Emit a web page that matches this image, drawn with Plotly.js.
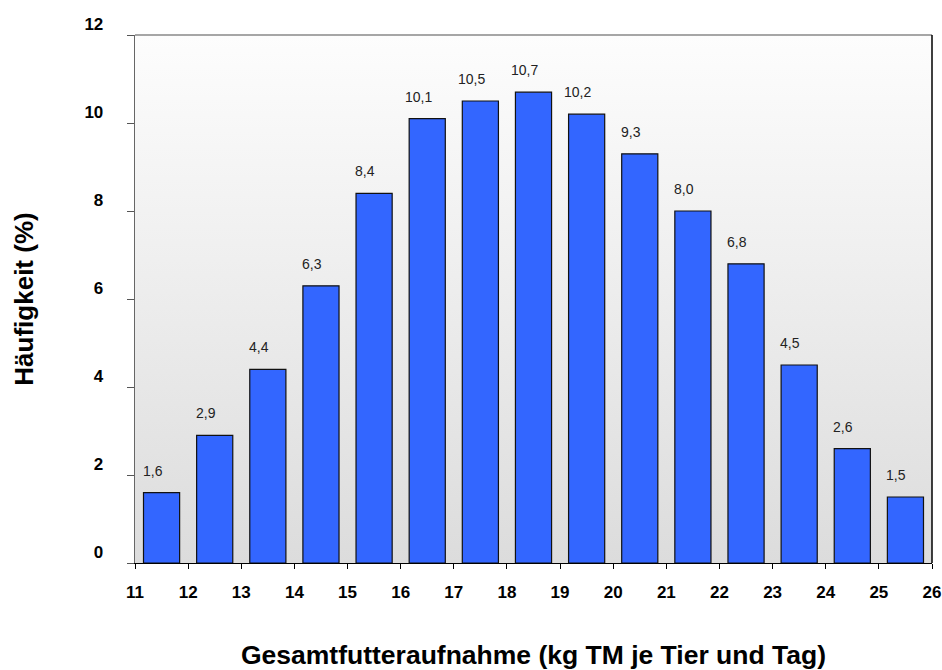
<!DOCTYPE html>
<html>
<head>
<meta charset="utf-8">
<script src="https://cdn.plot.ly/plotly-3.0.1.min.js"></script>
<style>html,body{margin:0;padding:0;background:#fff;}#chart{width:942px;height:670px;}</style>
</head>
<body>
<div id="chart"></div>
<script>
// Data
const binStart = [11, 12, 13, 14, 15, 16, 17, 18, 19, 20, 21, 22, 23, 24, 25];
const frequency = [1.6, 2.9, 4.4, 6.3, 8.4, 10.1, 10.5, 10.7, 10.2, 9.3, 8.0, 6.8, 4.5, 2.6, 1.5];
const valueLabels = ["1,6", "2,9", "4,4", "6,3", "8,4", "10,1", "10,5", "10,7", "10,2", "9,3", "8,0", "6,8", "4,5", "2,6", "1,5"];
const xTicks = [11, 12, 13, 14, 15, 16, 17, 18, 19, 20, 21, 22, 23, 24, 25, 26];
const yTicks = [0, 2, 4, 6, 8, 10, 12];

const FONT = "Liberation Sans, Arial, Helvetica, sans-serif";
const barWidth = 0.68;
const barOffset = (1 - barWidth) / 2;

const gradSvg = '<svg xmlns="http://www.w3.org/2000/svg" width="100" height="100" preserveAspectRatio="none">' +
  '<defs><linearGradient id="g" x1="0" y1="0" x2="0" y2="1">' +
  '<stop offset="0" stop-color="#fdfdfd"/><stop offset="1" stop-color="#dcdcdc"/></linearGradient></defs>' +
  '<rect width="100" height="100" fill="url(#g)"/></svg>';

const trace = {
  type: 'bar',
  x: binStart,
  y: frequency,
  width: barWidth,
  offset: barOffset,
  marker: { color: '#3366ff', line: { color: '#111111', width: 1.2 } },
  hoverinfo: 'x+y'
};

const annotations = binStart.map((b, i) => ({
  x: b + 0.5, y: frequency[i], xref: 'x', yref: 'y',
  text: valueLabels[i], showarrow: false,
  xshift: -9, yshift: 22, yanchor: 'middle',
  font: { family: FONT, size: 14, color: '#222222' }
}));

const layout = {
  width: 942, height: 670,
  margin: { l: 135, r: 10, t: 35, b: 107 },
  paper_bgcolor: '#ffffff',
  plot_bgcolor: '#ffffff',
  showlegend: false,
  bargap: 0,
  font: { family: FONT, color: '#000' },
  images: [{
    source: 'data:image/svg+xml;charset=utf-8,' + encodeURIComponent(gradSvg),
    xref: 'paper', yref: 'paper', x: 0, y: 1, sizex: 1, sizey: 1,
    xanchor: 'left', yanchor: 'top', sizing: 'stretch', layer: 'below'
  }],
  xaxis: {
    range: [11, 26],
    tickmode: 'array', tickvals: xTicks, ticktext: xTicks.map(String),
    ticks: 'outside', ticklen: 5, tickcolor: '#000', tickwidth: 1,
    showline: true, linecolor: '#000', linewidth: 1.3,
    showgrid: false, zeroline: false,
    tickfont: { family: FONT, size: 17, weight: 'bold', color: '#000' },
    ticklabelstandoff: 8, ticklabelshift: 0, ticklabeloverflow: 'allow',
    title: { text: 'Gesamtfutteraufnahme (kg TM je Tier und Tag)', standoff: 44,
      font: { family: FONT, size: 26.5, weight: 'bold', color: '#000' } }
  },
  yaxis: {
    range: [0, 12],
    tickmode: 'array', tickvals: yTicks, ticktext: yTicks.map(String),
    ticks: 'outside', ticklen: 7, tickcolor: '#555', tickwidth: 1,
    showline: true, linecolor: '#666', linewidth: 1.3,
    showgrid: false, zeroline: false,
    tickfont: { family: FONT, size: 17, weight: 'bold', color: '#000' },
    ticklabelstandoff: 20, ticklabelshift: -11, ticklabeloverflow: 'allow',
    title: { text: 'Häufigkeit (%)', standoff: 43,
      font: { family: FONT, size: 26, weight: 'bold', color: '#000' } }
  },
  shapes: [
    { type: 'line', xref: 'paper', yref: 'paper', x0: 0, x1: 1, y0: 1, y1: 1,
      line: { color: '#888888', width: 1.3 } },
    { type: 'line', xref: 'paper', yref: 'paper', x0: 1, x1: 1, y0: 0, y1: 1,
      line: { color: '#000000', width: 1.5 } }
  ],
  annotations: annotations
};

Plotly.newPlot('chart', [trace], layout, { displayModeBar: false, staticPlot: true });
</script>
</body>
</html>
